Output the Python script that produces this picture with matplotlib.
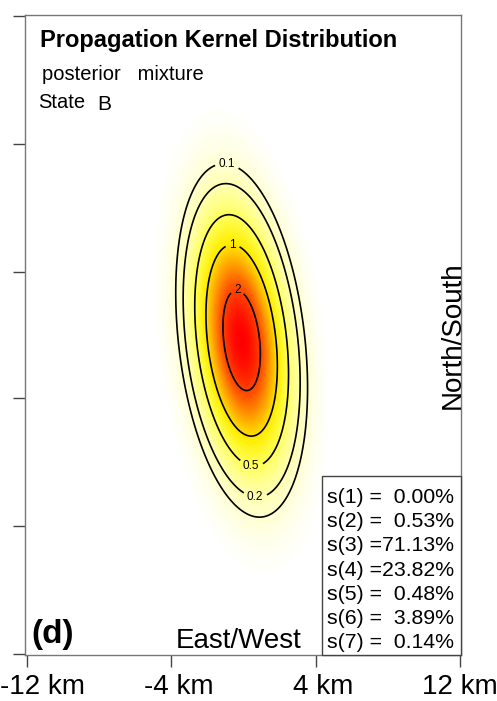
import numpy as np
import matplotlib
matplotlib.use("Agg")
import matplotlib.pyplot as plt
from matplotlib.colors import LinearSegmentedColormap
from matplotlib.transforms import ScaledTranslation

plt.rcParams['font.family'] = ['Liberation Sans', 'DejaVu Sans']

# --- values ---
kernel_peak = 2.6          # density at the mode
kernel_center = (-0.1, -0.3)   # km (east, north)
kernel_sigma = (1.43, 3.84)    # km
kernel_rho = -0.27
contour_levels = [0.1, 0.2, 0.5, 1, 2]
label_spots = [(-0.85, 9.9), (-0.6, 5.2), (-0.3, 2.7), (0.4, -7.4), (0.6, -9.4)]

x_ticks = [-12, -4, 4, 12]
x_tick_labels = ['-12 km', '-4 km', '4 km', '12 km']
y_ticks = [-17.7, -10.6, -3.5, 3.5, 10.6, 17.7]

state_names = ['s(1)', 's(2)', 's(3)', 's(4)', 's(5)', 's(6)', 's(7)']
state_share = ['  0.00%', '  0.53%', '71.13%', '23.82%', '  0.48%', '  3.89%', '  0.14%']

# --- kernel surface ---
xg = np.linspace(-12.1, 12.05, 400)
yg = np.linspace(-17.75, 17.75, 600)
X, Y = np.meshgrid(xg, yg)
sx, sy = kernel_sigma
dx = (X - kernel_center[0]) / sx
dy = (Y - kernel_center[1]) / sy
Q = (dx**2 - 2 * kernel_rho * dx * dy + dy**2) / (1 - kernel_rho**2)
Z = kernel_peak * np.exp(-0.5 * Q)

cmap = LinearSegmentedColormap.from_list('kernel', [
    (0.0, '#ffffff'), (0.008, '#fffff2'), (0.04, '#ffffcc'), (0.2, '#ffff55'),
    (0.36, '#ffee00'), (0.52, '#ffaa00'), (0.72, '#ff5500'), (1.0, '#ff0000')])

fig = plt.figure(figsize=(4.97, 7.01), dpi=100)
ax = fig.add_axes([25 / 497, 46 / 701, 436 / 497, 640 / 701])

ax.pcolormesh(X, Y, Z, cmap=cmap, vmin=0, vmax=kernel_peak, shading='gouraud', rasterized=True)
cs = ax.contour(X, Y, Z, levels=contour_levels, colors='black', linewidths=1.2)
labels = ax.clabel(cs, fmt=lambda v: f'{v:g}', fontsize=8.5, inline=True, inline_spacing=4,
                   manual=label_spots)
for t in labels:
    t.set_rotation(0)

ax.set_xlim(-12.1, 12.05)
ax.set_ylim(-17.75, 17.75)
ax.set_xticks(x_ticks)
ax.set_xticklabels(x_tick_labels, fontsize=20)
ax.set_yticks(y_ticks)
ax.set_yticklabels([])
ax.tick_params(length=8.5, width=1, color='#444444')
ax.tick_params(axis='x', pad=5)
for sp in ax.spines.values():
    sp.set_color('#777777')
    sp.set_linewidth(1)

# shift tick labels to the right like the reference
for i, lab in enumerate(ax.get_xticklabels()):
    if i == 0:
        lab.set_horizontalalignment('left')
        lab.set_transform(lab.get_transform() + ScaledTranslation(-27 / 100, 0, fig.dpi_scale_trans))
    elif i < 3:
        lab.set_transform(lab.get_transform() + ScaledTranslation(8 / 100, 0, fig.dpi_scale_trans))

# texts, in figure pixel positions
def fig_text(px, py, s, **kw):
    fig.text(px / 497, 1 - py / 701, s, va='baseline', **kw)

fig_text(40, 47, 'Propagation Kernel Distribution', fontsize=17, fontweight='bold')
fig_text(42, 80, 'posterior   mixture', fontsize=14.5)
fig_text(38, 108, 'State', fontsize=14.5)
fig_text(97, 110, 'B', fontsize=15)
fig_text(31, 643, '(d)', fontsize=24, fontweight='bold')
fig_text(176, 648, 'East/West', fontsize=20)
fig.text(453 / 497, 1 - 335 / 701, 'North/South', fontsize=20, rotation=90, ha='center', va='center')

# state shares box
box = plt.Rectangle((322 / 497, 46 / 701), 139 / 497, 179 / 701, transform=fig.transFigure,
                    facecolor='white', edgecolor='#444444', linewidth=1)
fig.patches.append(box)
for i, (n, v) in enumerate(zip(state_names, state_share)):
    fig_text(327, 503 + i * 24.2, f'{n} ={v}', fontsize=15.3)

fig.savefig('out.png', dpi=100)
